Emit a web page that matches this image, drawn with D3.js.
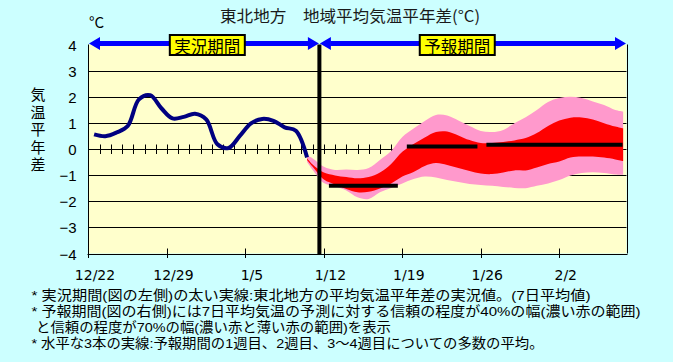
<!doctype html>
<html>
    <head>
        <meta charset="utf-8">
        <title>東北地方 地域平均気温平年差</title>
        <script src="https://d3js.org/d3.v7.min.js"></script>
        <style type="text/css">
            body { margin:0; background:#ccffff; }
            text { font-family:'Noto Sans CJK JP', sans-serif; fill:#000; }
            .num { font-family:'DejaVu Sans', sans-serif; }
            .ynum { font-family:'Liberation Sans', sans-serif; }
            .note { font-family:'Liberation Sans', 'Noto Sans CJK JP', sans-serif; }
        </style>
    </head>
    <body>
        <svg></svg>
        <script type="text/javascript">

            var w = 673,
                h = 362;

            // observed 7-day mean anomaly (day 0 = 12/22)
            var obsDays = [0.5, 1.5, 2.5, 3.5, 4.5, 5.5, 6.5, 7.5, 8.5, 9.5,
                           10.5, 11.5, 12.5, 13.5, 14.5, 15.5, 16.5, 17.5, 18.5, 19.5];
            var obsValues = [0.56, 0.49, 0.63, 0.88, 1.90, 2.06, 1.56, 1.17, 1.23, 1.35,
                             1.13, 0.18, 0.04, 0.50, 0.98, 1.15, 1.08, 0.83, 0.70, -0.32];

            // forecast ranges
            var fcDays = [19.5, 20, 21, 22, 23, 24, 25, 26, 27, 28, 29, 30, 31, 32, 33,
                          34, 35, 36, 37, 38, 39, 40, 41, 42, 43, 44, 45, 46, 47, 47.7];
            var outerHigh = [-0.25, -0.36, -0.68, -0.80, -0.78, -0.80, -0.73, -0.42, -0.08, 0.46,
                             0.78, 1.07, 1.30, 1.28, 1.09, 0.88, 0.69, 0.65, 0.73, 0.99,
                             1.22, 1.49, 1.80, 1.95, 2.00, 1.95, 1.82, 1.68, 1.49, 1.43];
            var innerHigh = [-0.35, -0.59, -0.90, -1.01, -1.07, -1.12, -1.07, -0.90, -0.57, -0.11,
                             0.19, 0.44, 0.65, 0.67, 0.52, 0.34, 0.23, 0.23, 0.27, 0.33,
                             0.42, 0.61, 0.88, 1.09, 1.20, 1.21, 1.13, 0.99, 0.86, 0.79];
            var innerLow = [-0.42, -0.68, -1.17, -1.36, -1.53, -1.66, -1.64, -1.51, -1.32, -1.05,
                            -0.88, -0.65, -0.54, -0.61, -0.73, -0.84, -0.94, -0.96, -0.90, -0.82,
                            -0.82, -0.71, -0.57, -0.48, -0.33, -0.29, -0.29, -0.33, -0.40, -0.46];
            var outerLow = [-0.50, -0.80, -1.30, -1.43, -1.59, -1.85, -1.91, -1.66, -1.49, -1.32,
                            -1.15, -1.05, -1.09, -1.19, -1.26, -1.34, -1.38, -1.41, -1.45, -1.49,
                            -1.50, -1.41, -1.32, -1.19, -1.01, -0.92, -0.89, -0.92, -0.98, -0.99];

            // ensemble means: week 1, week 2, weeks 3-4
            var weekStart = [21.45, 28.4, 35.5];
            var weekEnd = [27.6, 34.7, 47.65];
            var weekMean = [-1.41, 0.10, 0.16];

            var splitDay = 20.6;
            var periodNames = ['実況期間', '予報期間'];
            var periodStart = [0, 20.6];
            var periodEnd = [20.6, 48];
            var periodLabelAt = [10.6, 32.9];

            var xTickDays = [0, 7, 14, 21, 28, 35, 42];
            var xTickLabels = ['12/22', '12/29', '1/5', '1/12', '1/19', '1/26', '2/2'];
            var dayTicks = d3.range(1, 28);
            var yTicks = [4, 3, 2, 1, 0, -1, -2, -3, -4];
            var yTickLabels = ['4', '3', '2', '1', '0', '−1', '−2', '−3', '−4'];

            var title = '東北地方　地域平均気温平年差(°C)';
            var yTitle = '気温平年差';
            var notes = [
                '* 実況期間(図の左側)の太い実線:東北地方の平均気温平年差の実況値。(7日平均値)',
                '* 予報期間(図の右側)には7日平均気温の予測に対する信頼の程度が40%の幅(濃い赤の範囲)',
                'と信頼の程度が70%の幅(濃い赤と薄い赤の範囲)を表示',
                '* 水平な3本の実線:予報期間の1週目、2週目、3～4週目についての多数の平均。'
            ];

            var xScale = d3.scaleLinear()
                .domain([0, 48])
                .range([88.5, 626.5]);

            var yScale = d3.scaleLinear()
                .domain([-4, 4])
                .range([253.5, 44.5]);

            function crisp(v) { return Math.round(v) + 0.5; }

            var svg = d3.select('svg')
                .attr('width', w)
                .attr('height', h)
                .style('display', 'block');

            svg.append('rect')
                .attr('width', w)
                .attr('height', h)
                .attr('fill', '#ccffff');

            svg.append('rect')
                .attr('x', xScale(0))
                .attr('y', yScale(4))
                .attr('width', xScale(48) - xScale(0))
                .attr('height', yScale(-4) - yScale(4))
                .attr('fill', '#ffffcc');

            // grid
            svg.append('g')
                .selectAll('line')
                .data([3, 2, 1, 0, -1, -2, -3])
                .enter()
                .append('line')
                .attr('x1', xScale(0))
                .attr('x2', xScale(48))
                .attr('y1', function(d){ return crisp(yScale(d)); })
                .attr('y2', function(d){ return crisp(yScale(d)); })
                .attr('stroke', '#000')
                .attr('stroke-width', 1);

            svg.append('g')
                .selectAll('line')
                .data(dayTicks)
                .enter()
                .append('line')
                .attr('x1', function(d){ return crisp(xScale(d)); })
                .attr('x2', function(d){ return crisp(xScale(d)); })
                .attr('y1', yScale(0) - 4.5)
                .attr('y2', yScale(0) + 5)
                .attr('stroke', '#000')
                .attr('stroke-width', 1);

            // forecast bands
            var outerArea = d3.area()
                .x(function(d, i){ return xScale(fcDays[i]); })
                .y0(function(d, i){ return yScale(outerLow[i]); })
                .y1(function(d, i){ return yScale(outerHigh[i]); })
                .curve(d3.curveCatmullRom);

            var innerArea = d3.area()
                .x(function(d, i){ return xScale(fcDays[i]); })
                .y0(function(d, i){ return yScale(innerLow[i]); })
                .y1(function(d, i){ return yScale(innerHigh[i]); })
                .curve(d3.curveCatmullRom);

            svg.append('path')
                .datum(fcDays)
                .attr('d', outerArea)
                .attr('fill', '#ff99cc');

            svg.append('path')
                .datum(fcDays)
                .attr('d', innerArea)
                .attr('fill', '#ff0000');

            // observed line
            var obsLine = d3.line()
                .x(function(d, i){ return xScale(obsDays[i]); })
                .y(function(d){ return yScale(d); })
                .curve(d3.curveCatmullRom);

            svg.append('path')
                .datum(obsValues)
                .attr('d', obsLine)
                .attr('fill', 'none')
                .attr('stroke', '#000080')
                .attr('stroke-width', 4)
                .attr('stroke-linejoin', 'round');

            // weekly means
            svg.append('g')
                .selectAll('line')
                .data(weekMean)
                .enter()
                .append('line')
                .attr('x1', function(d, i){ return xScale(weekStart[i]); })
                .attr('x2', function(d, i){ return xScale(weekEnd[i]); })
                .attr('y1', function(d){ return yScale(d); })
                .attr('y2', function(d){ return yScale(d); })
                .attr('stroke', '#000')
                .attr('stroke-width', 4);

            // frame
            svg.append('line')
                .attr('x1', crisp(xScale(0)) - 1).attr('x2', crisp(xScale(0)) - 1)
                .attr('y1', yScale(4)).attr('y2', yScale(-4) + 4)
                .attr('stroke', '#000');
            svg.append('line')
                .attr('x1', crisp(xScale(48))).attr('x2', crisp(xScale(48)))
                .attr('y1', yScale(4)).attr('y2', yScale(-4))
                .attr('stroke', '#000');
            svg.append('line')
                .attr('x1', xScale(0) - 1).attr('x2', xScale(48) + 1)
                .attr('y1', crisp(yScale(-4))).attr('y2', crisp(yScale(-4)))
                .attr('stroke', '#000');

            svg.append('g')
                .selectAll('line')
                .data(xTickDays)
                .enter()
                .append('line')
                .attr('x1', function(d){ return crisp(xScale(d)) - (d === 0 ? 1 : 0); })
                .attr('x2', function(d){ return crisp(xScale(d)) - (d === 0 ? 1 : 0); })
                .attr('y1', yScale(-4) - 5)
                .attr('y2', yScale(-4) + 4.5)
                .attr('stroke', '#000');

            // split between observed and forecast
            svg.append('line')
                .attr('x1', xScale(splitDay)).attr('x2', xScale(splitDay))
                .attr('y1', yScale(4)).attr('y2', yScale(-4) + 1)
                .attr('stroke', '#000')
                .attr('stroke-width', 4);

            // period arrows
            var arrowY = 43.5,
                head = 11,
                half = 6.5;

            var periods = svg.append('g')
                .selectAll('g')
                .data(periodNames)
                .enter()
                .append('g');

            periods.append('line')
                .attr('x1', function(d, i){ return xScale(periodStart[i]) + head; })
                .attr('x2', function(d, i){ return xScale(periodEnd[i]) - head; })
                .attr('y1', arrowY)
                .attr('y2', arrowY)
                .attr('stroke', '#0000ff')
                .attr('stroke-width', 5);

            periods.append('path')
                .attr('d', function(d, i){
                    var a = xScale(periodStart[i]) + 0.5,
                        b = xScale(periodEnd[i]) - 0.5;
                    return 'M' + a + ',' + arrowY +
                        'L' + (a + head) + ',' + (arrowY - half) +
                        'L' + (a + head) + ',' + (arrowY + half) + 'Z' +
                        'M' + b + ',' + arrowY +
                        'L' + (b - head) + ',' + (arrowY - half) +
                        'L' + (b - head) + ',' + (arrowY + half) + 'Z';
                })
                .attr('fill', '#0000ff');

            periods.append('rect')
                .attr('x', function(d, i){ return xScale(periodLabelAt[i]) - 37.5; })
                .attr('y', 35)
                .attr('width', 75)
                .attr('height', 20)
                .attr('fill', '#ffff00')
                .attr('stroke', '#000')
                .attr('stroke-width', 2);

            periods.append('text')
                .text(function(d){ return d; })
                .attr('x', function(d, i){ return xScale(periodLabelAt[i]); })
                .attr('y', 45.5)
                .attr('text-anchor', 'middle')
                .attr('dominant-baseline', 'central')
                .attr('textLength', 66)
                .attr('lengthAdjust', 'spacingAndGlyphs')
                .style('font-size', '17px');

            // axis labels
            svg.append('g')
                .selectAll('text')
                .data(yTicks)
                .enter()
                .append('text')
                .attr('class', 'ynum')
                .text(function(d, i){ return yTickLabels[i]; })
                .attr('x', 76.5)
                .attr('y', function(d){ return yScale(d) + 0.5; })
                .attr('text-anchor', 'end')
                .attr('dominant-baseline', 'central')
                .style('font-size', '15px');

            svg.append('g')
                .selectAll('text')
                .data(xTickDays)
                .enter()
                .append('text')
                .attr('class', 'num')
                .text(function(d, i){ return xTickLabels[i]; })
                .attr('x', function(d){ return xScale(d) + 6.5; })
                .attr('y', 275)
                .attr('text-anchor', 'middle')
                .attr('dominant-baseline', 'central')
                .style('font-size', '14px');

            svg.append('g')
                .selectAll('text')
                .data(yTitle.split(''))
                .enter()
                .append('text')
                .attr('class', 'note')
                .text(function(d){ return d; })
                .attr('x', 38)
                .attr('y', function(d, i){ return 94.5 + i * 17.6; })
                .attr('text-anchor', 'middle')
                .attr('dominant-baseline', 'central')
                .style('font-size', '15px');

            svg.append('text')
                .text('°C')
                .attr('x', 89)
                .attr('y', 21.5)
                .attr('dominant-baseline', 'central')
                .style('font-size', '15px');

            svg.append('text')
                .text(title)
                .attr('x', 220)
                .attr('y', 15)
                .attr('dominant-baseline', 'central')
                .attr('textLength', 260)
                .attr('lengthAdjust', 'spacingAndGlyphs')
                .style('font-size', '16px')
                .style('fill', '#1a1a1a');

            var noteX = [31.5, 31.5, 36, 31.5],
                noteY = [295, 311.3, 327.7, 343.5],
                noteLen = [559, 609, 355, 512];

            svg.append('g')
                .selectAll('text')
                .data(notes)
                .enter()
                .append('text')
                .attr('class', 'note')
                .text(function(d){ return d; })
                .attr('x', function(d, i){ return noteX[i]; })
                .attr('y', function(d, i){ return noteY[i]; })
                .attr('dominant-baseline', 'central')
                .attr('textLength', function(d, i){ return noteLen[i]; })
                .attr('lengthAdjust', 'spacingAndGlyphs')
                .style('font-size', '13.5px');
        </script>
    </body>
</html>
